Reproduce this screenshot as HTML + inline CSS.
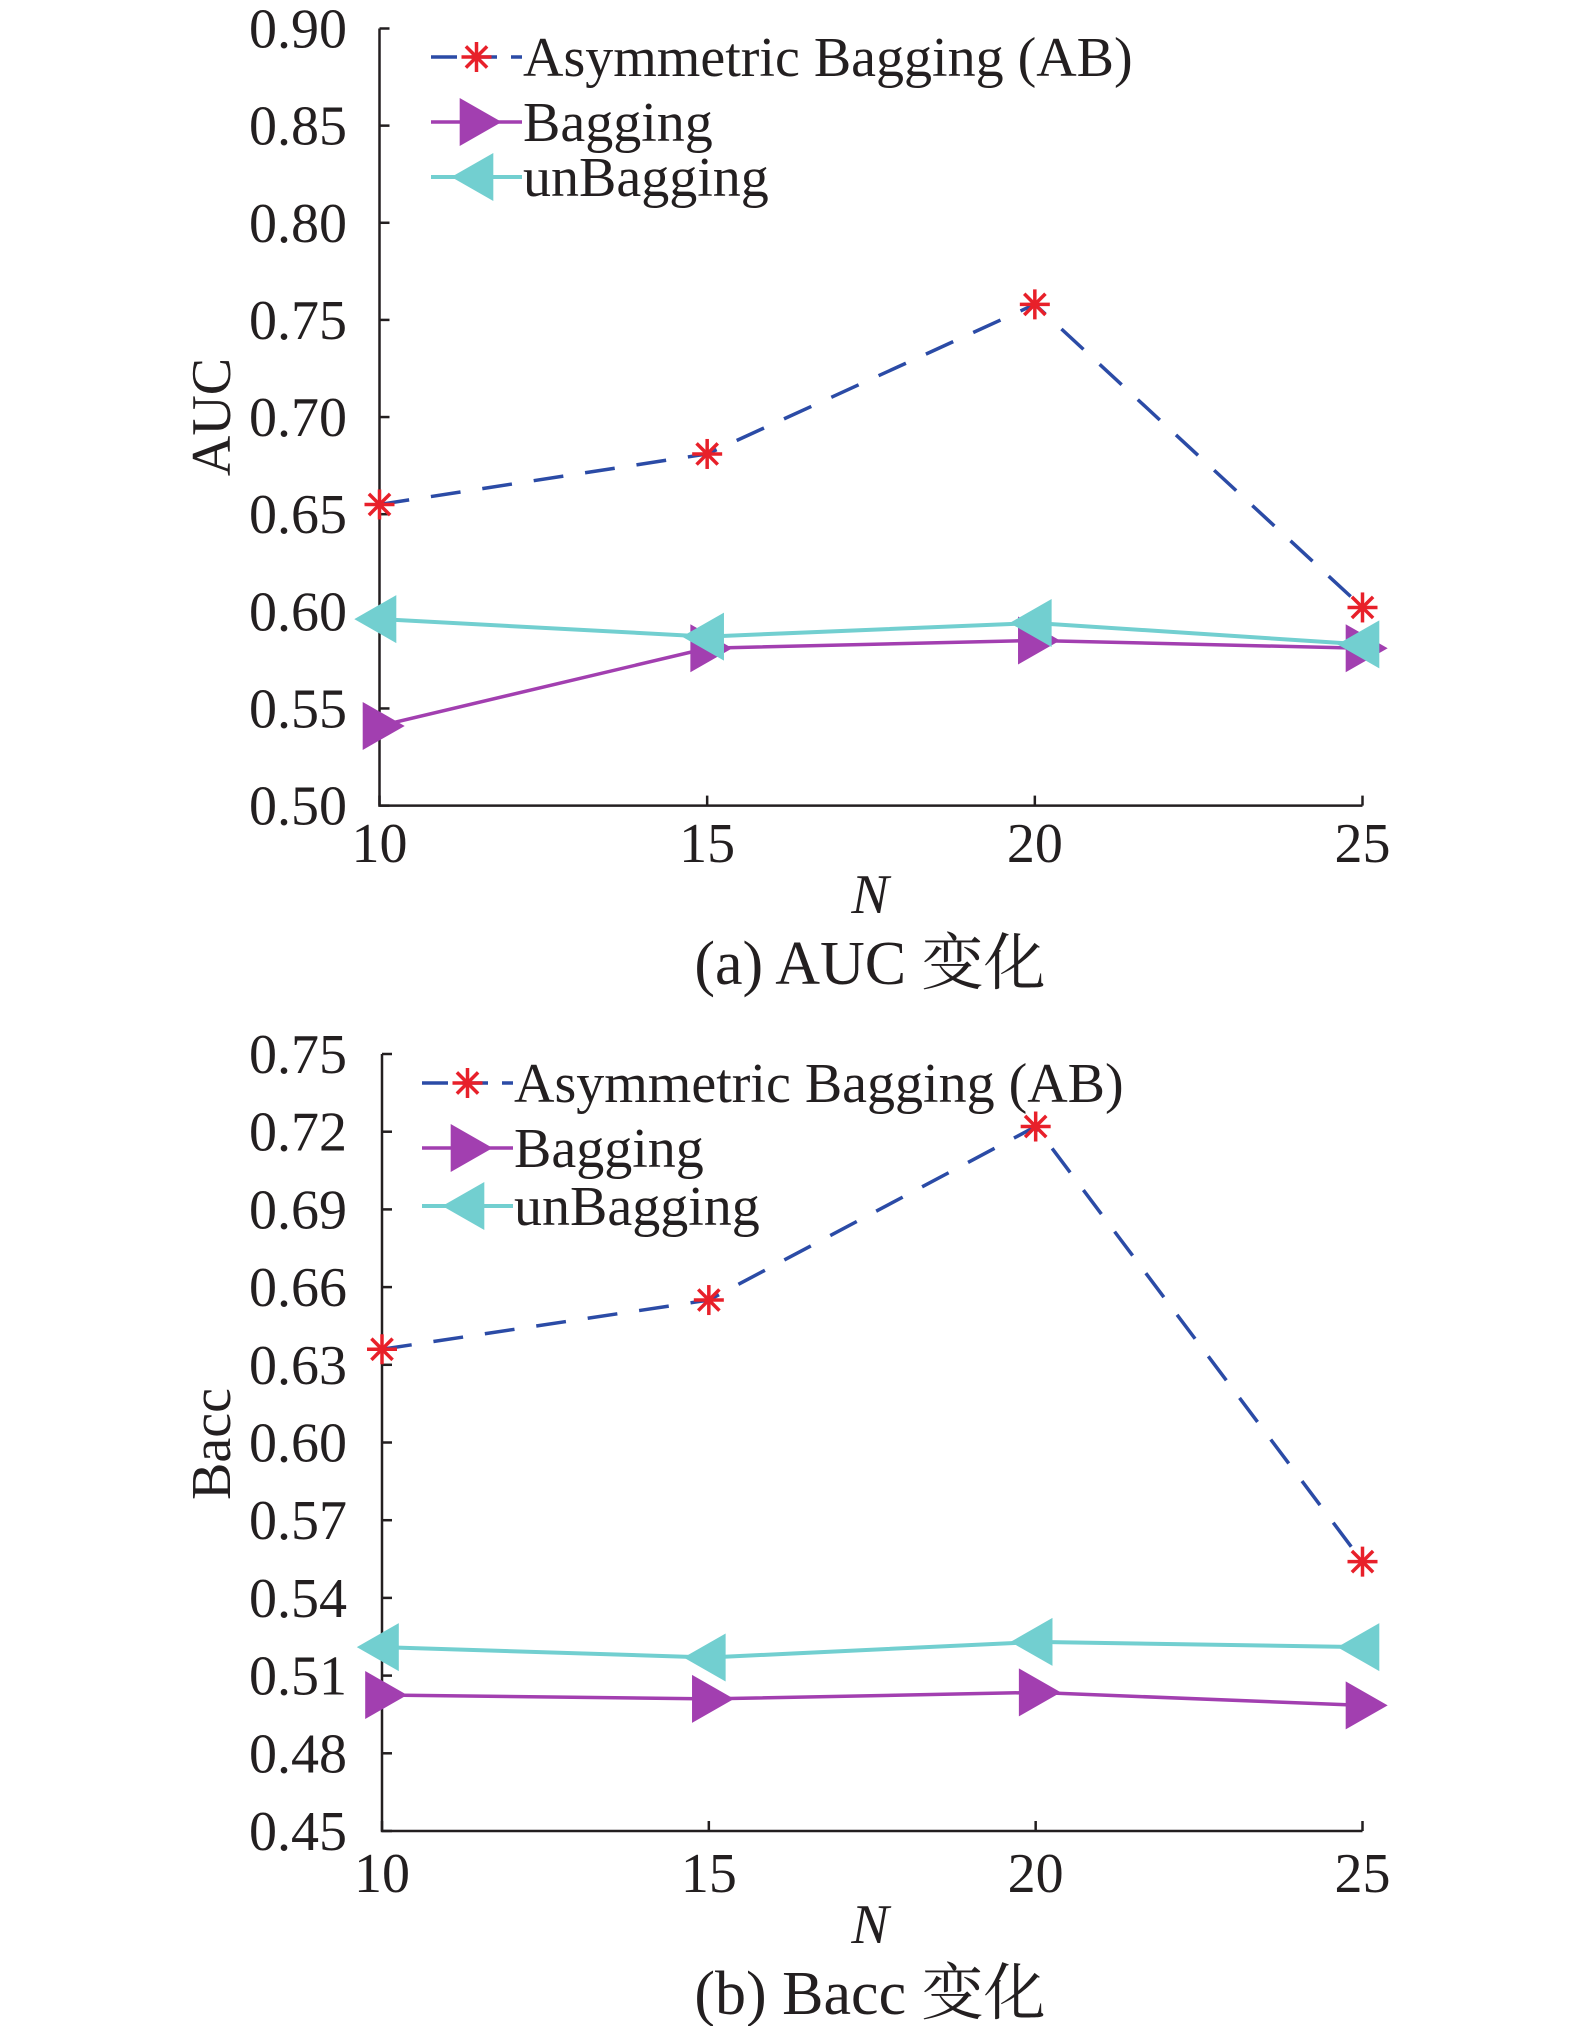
<!DOCTYPE html>
<html><head><meta charset="utf-8"><style>
html,body{margin:0;padding:0;background:#fff}
svg{display:block}
text{font-family:"Liberation Serif","Noto Serif CJK SC",serif;fill:#231f20}
</style></head><body>
<svg id="svg" width="1575" height="2026" viewBox="0 0 1575 2026"></svg>
<script>
const categories=[10,15,20,25];
const aucAB=[0.655,0.681,0.758,0.602];
const aucBag=[0.541,0.581,0.585,0.581];
const aucUn=[0.596,0.587,0.594,0.583];
const aucTicks=["0.50","0.55","0.60","0.65","0.70","0.75","0.80","0.85","0.90"];
const baccAB=[0.636,0.655,0.722,0.554];
const baccBag=[0.5025,0.501,0.5035,0.4985];
const baccUn=[0.521,0.517,0.523,0.521];
const baccTicks=["0.45","0.48","0.51","0.54","0.57","0.60","0.63","0.66","0.69","0.72","0.75"];
const seriesNames=["Asymmetric Bagging (AB)","Bagging","unBagging"];

const NS="http://www.w3.org/2000/svg";
const svg=document.getElementById('svg');
function mk(tag,attrs,parent,txt){const e=document.createElementNS(NS,tag);for(const k in attrs)e.setAttribute(k,attrs[k]);if(txt!==undefined)e.textContent=txt;(parent||svg).appendChild(e);return e;}
const C_AB="#2b4ba6",C_STAR="#e8202a",C_BAG="#a23fb0",C_UN="#72cfd0";

function star(g,x,y,r){
  const p=mk('g',{},g);
  for(let i=0;i<4;i++){const a=i*Math.PI/4;
    mk('line',{x1:x-r*Math.cos(a),y1:y-r*Math.sin(a),x2:x+r*Math.cos(a),y2:y+r*Math.sin(a),stroke:C_STAR,'stroke-width':3.5},p);}
  return p;
}
function tri(g,x,y,dir,col){
  const s=24;let pts;
  if(dir>0)pts=`${x-s*0.7},${y-s} ${x+s*1.05},${y} ${x-s*0.7},${y+s}`;
  else pts=`${x+s*0.7},${y-s} ${x-s*1.05},${y} ${x+s*0.7},${y+s}`;
  return mk('polygon',{points:pts,fill:col},g);
}
function chart(o){
  const g=mk('g',{},svg);
  
  
  const xs=v=>o.x0+(v-categories[0])/(categories[categories.length-1]-categories[0])*(o.x1-o.x0);
  const ymin=parseFloat(o.ticks[0]),ymax=parseFloat(o.ticks[o.ticks.length-1]);
  const ys=v=>o.yb-(v-ymin)/(ymax-ymin)*(o.yb-o.yt);
  const ax=mk('path',{d:`M${o.x0},${o.yt} V${o.yb} H${o.x1}`,fill:'none',stroke:'#231f20','stroke-width':2.5},g);
  
  
  o.ticks.forEach(t=>{const y=ys(parseFloat(t));
    mk('line',{x1:o.x0,y1:y,x2:o.x0+10,y2:y,stroke:'#231f20','stroke-width':2.5},g);
    const tl=mk('text',{x:347,y:y+19,'text-anchor':'end','font-size':56},g,t);
    
    
  });
  categories.forEach(c=>{const x=xs(c);
    mk('line',{x1:x,y1:o.yb,x2:x,y2:o.yb-10,stroke:'#231f20','stroke-width':2.5},g);
    const tl=mk('text',{x:x,y:o.xlabY,'text-anchor':'middle','font-size':56},g,c);
    
    
  });
  const xt=mk('text',{x:870,y:o.nY,'text-anchor':'middle','font-size':56,'font-style':'italic'},g,'N');
  
  
  const cap=mk('text',{x:870,y:o.capY,'text-anchor':'middle','font-size':62},g,o.caption);
  
  
  const yt=mk('text',{x:0,y:0,'text-anchor':'middle','font-size':56,transform:`translate(230,${o.ylY}) rotate(-90)`},g,o.ylabel);
  
  
  const pts=a=>a.map((v,i)=>`${xs(categories[i])},${ys(v)}`).join(' ');
  const un=mk('polyline',{points:pts(o.un),fill:'none',stroke:C_UN,'stroke-width':4},g);
  
  
  const bg=mk('polyline',{points:pts(o.bag),fill:'none',stroke:C_BAG,'stroke-width':3.5},g);
  
  
  o.bag.forEach((v,i)=>{const m=tri(g,xs(categories[i]),ys(v),1,C_BAG);
    
    });
  o.un.forEach((v,i)=>{const m=tri(g,xs(categories[i]),ys(v),-1,C_UN);
    
    });
  const ab=mk('polyline',{points:pts(o.ab),fill:'none',stroke:C_AB,'stroke-width':3.5,'stroke-dasharray':'30,22'},g);
  
  
  o.ab.forEach((v,i)=>{const m=star(g,xs(categories[i]),ys(v),15);
    
    });
  const lg=mk('g',{},g);
  
  
  const lx0=o.legX,lx1=o.legX+91,lm=(lx0+lx1)/2;
  o.legY.forEach((y,i)=>{
    const e=mk('g',{},lg);
    
    
    if(i===0){mk('line',{x1:lx0,y1:y,x2:lx1,y2:y,stroke:C_AB,'stroke-width':3.5,'stroke-dasharray':'26,14'},e);star(e,lm,y,15);}
    else if(i===1){mk('line',{x1:lx0,y1:y,x2:lx1,y2:y,stroke:C_BAG,'stroke-width':3.5},e);tri(e,lm,y,1,C_BAG);}
    else{mk('line',{x1:lx0,y1:y,x2:lx1,y2:y,stroke:C_UN,'stroke-width':4},e);tri(e,lm,y,-1,C_UN);}
    mk('text',{x:lx1+1,y:y+19,'font-size':56},e,seriesNames[i]);
  });
}
chart({name:'auc-chart',x0:379.5,x1:1362.5,yt:28.5,yb:805.6,ticks:aucTicks,ab:aucAB,bag:aucBag,un:aucUn,
  xlabY:862,nY:913,capY:984,caption:'(a) AUC 变化',ylabel:'AUC',ylY:417,legX:431,legY:[57,122,177]});
chart({name:'bacc-chart',x0:382,x1:1362.5,yt:1054,yb:1831,ticks:baccTicks,ab:baccAB,bag:baccBag,un:baccUn,
  xlabY:1892,nY:1943,capY:2014,caption:'(b) Bacc 变化',ylabel:'Bacc',ylY:1444,legX:422,legY:[1083,1148,1206]});
</script>
</body></html>
